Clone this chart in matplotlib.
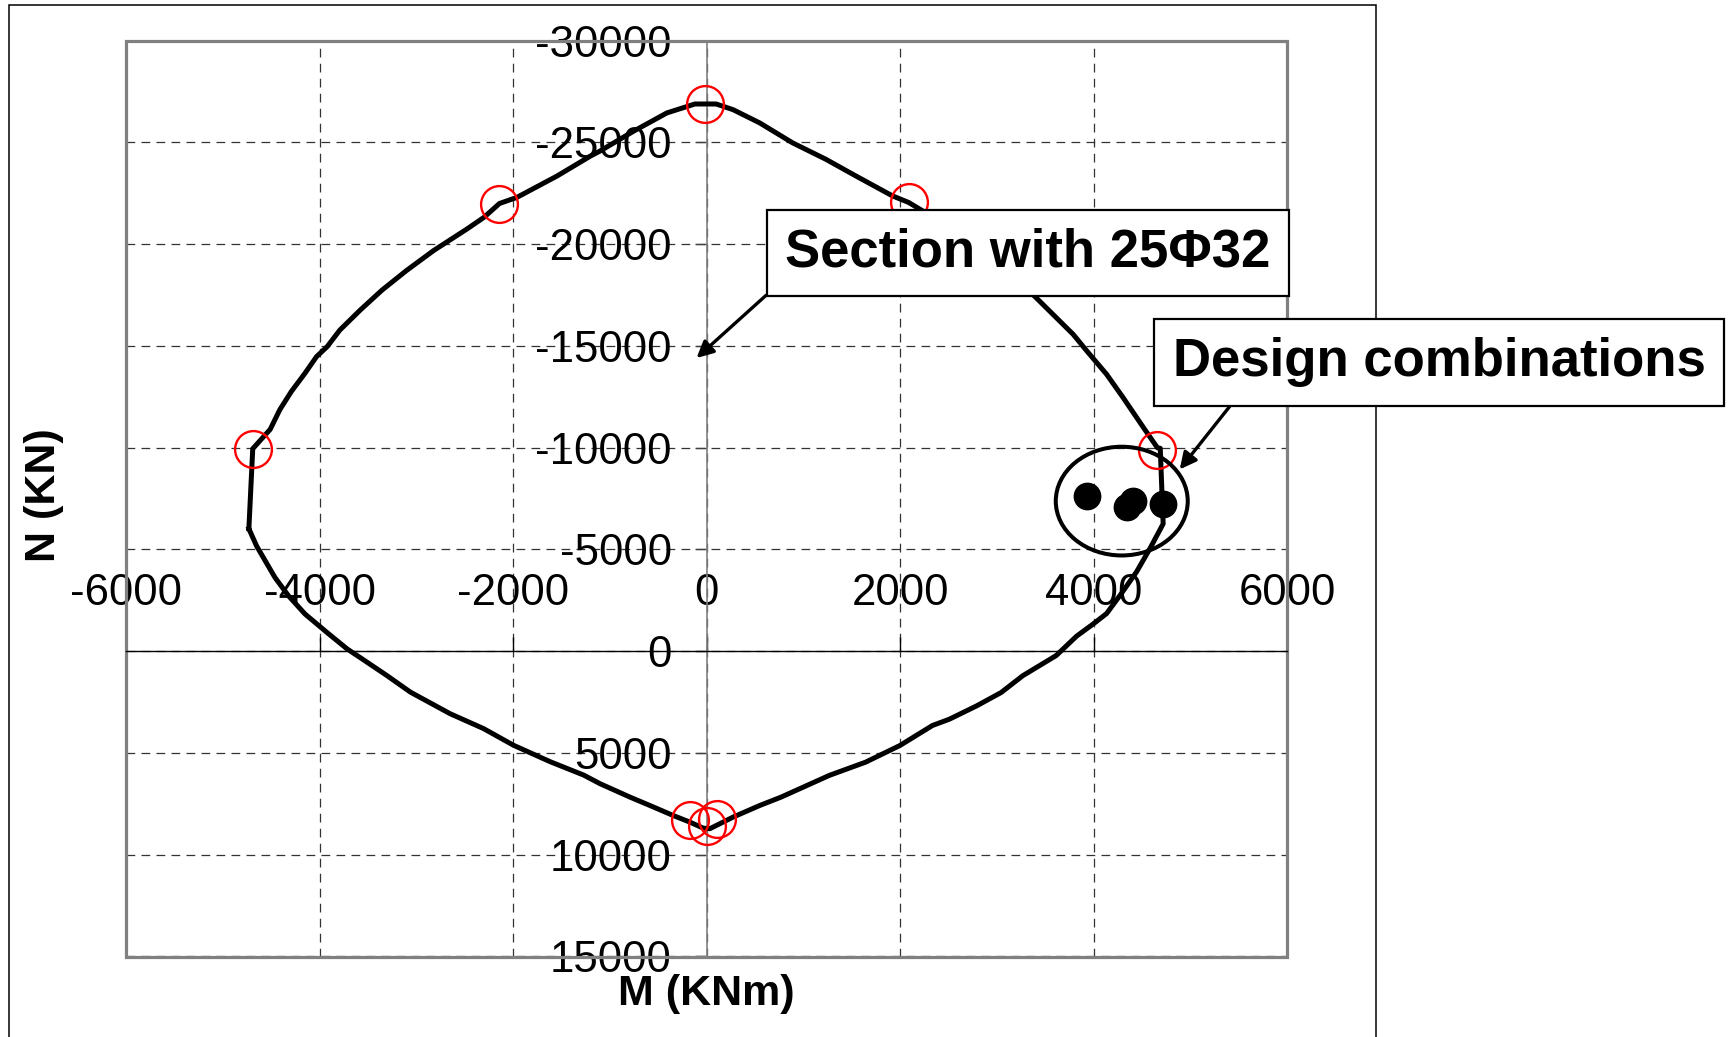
import matplotlib
matplotlib.use('Agg')
import matplotlib.pyplot as plt
from matplotlib.patches import Ellipse, Rectangle

plt.rcParams['font.family'] = ['Liberation Sans', 'DejaVu Sans']
plt.rcParams['axes.unicode_minus'] = False

# Interaction envelope (M in KNm, N in KN)
M_env = [-4730, -4690, -4510, -4410, -4290, -4150, -4030, -3920, -3790, -3580,
         -3355, -3100, -2820, -2475, -2300, -2140, -1960, -1545, -1200, -1100,
         -755, -410, -120, 100, 275, 550, 890, 1235, 1545, 1920,
         2090, 2230, 2850, 3390, 3790, 3930, 4135, 4305, 4515, 4660,
         4690, 4720, 4585, 4445, 4275, 4135, 4000, 3825, 3615, 3270,
         3045, 2790, 2510, 2335, 2000, 1645, 1270, 770, 550, 275,
         35, -35, -170, -345, -585, -790, -1100, -1270, -1615, -1995,
         -2305, -2650, -3060, -3305, -3560, -3715, -3925, -4150, -4320, -4460,
         -4650, -4730]
N_env = [-6020, -9950, -10900, -11870, -12770, -13660, -14480, -14970, -15780, -16760,
         -17740, -18710, -19690, -20750, -21320, -22000, -22300, -23350, -24330, -24580,
         -25550, -26450, -26890, -26890, -26610, -25960, -24980, -24170, -23350, -22380,
         -22050, -21650, -19500, -17450, -15570, -14760, -13610, -12470, -11000, -10000,
         -9970, -6260, -5060, -3900, -2750, -1850, -1350, -740, 210, 1200,
         2030, 2690, 3340, 3650, 4630, 5450, 6100, 7170, 7580, 8150,
         8720, 8690, 8400, 8070, 7580, 7170, 6510, 6085, 5430, 4620,
         3800, 3070, 2010, 1190, 375, -115, -930, -1830, -2720, -3620,
         -5170, -6020]

# Highlighted envelope points (red circles)
M_red = [-4690, -2140, -20, 2090, 4660, -172, 0, 110]
N_red = [-9950, -22000, -26900, -22050, -9900, 8314, 8609, 8265]

# Design combinations
M_design = [3930, 4350, 4410, 4715]
N_design = [-7650, -7100, -7400, -7250]

x_ticks = [-6000, -4000, -2000, 0, 2000, 4000, 6000]
y_ticks = [-30000, -25000, -20000, -15000, -10000, -5000, 0, 5000, 10000, 15000]

W, H = 1729, 1037
fig = plt.figure(figsize=(W / 100, H / 100), dpi=100, facecolor='white')
ax = fig.add_axes([126 / W, 1 - 956.5 / H, (1287 - 126) / W, (956.5 - 40.7) / H])

ax.set_xlim(-6000, 6000)
ax.set_ylim(15000, -30000)
ax.set_xticks(x_ticks)
ax.set_xticklabels([str(v) for v in x_ticks])
ax.set_yticks(y_ticks)
ax.set_yticklabels([str(v) for v in y_ticks])

for s in ['bottom', 'right']:
    ax.spines[s].set_visible(False)
ax.spines['top'].set_position(('data', 0))
ax.spines['top'].set_color('black')
ax.spines['top'].set_linewidth(1.0)
ax.spines['left'].set_position(('data', 0))
ax.spines['left'].set_color('#808080')
ax.spines['left'].set_linewidth(1.2)
ax.xaxis.set_ticks_position('top')
ax.yaxis.set_ticks_position('left')
ax.tick_params(axis='x', direction='out', length=10, width=1, pad=16.5,
               labelsize=31.5, color='black')
ax.tick_params(axis='y', direction='out', length=8.6, width=1, pad=16.5,
               labelsize=31.5, color='#404040')

ax.set_axisbelow(True)
ax.grid(True, color='#333333', lw=0.9, linestyle=(0, (7, 5)))

# gray plot frame
ax.add_patch(Rectangle((0, 0), 1, 1, transform=ax.transAxes, fill=False,
                       edgecolor='#808080', lw=2.3, clip_on=False, zorder=2))

# outer chart border
fig.add_artist(Rectangle((9 / W, -0.02), (1376 - 9) / W, 1 - 5 / H + 0.02,
                         transform=fig.transFigure, fill=False,
                         edgecolor='black', lw=1.1, zorder=-1))

ax.plot(M_env, N_env, color='black', lw=3.6, zorder=3, solid_joinstyle='round')
ax.plot(M_red, N_red, 'o', ms=26.5, mfc='none', mec='red', mew=1.7, zorder=4)
ax.plot(M_design, N_design, 'o', ms=19, color='black', zorder=5)
ax.add_patch(Ellipse((4292, -7377), 1364, 5343, fill=False, ec='black',
                     lw=2.9, zorder=5))

ax.annotate('Section with 25Φ32', xy=(-103, -14408), xycoords='data',
            xytext=(0.7769, 0.7682), textcoords='axes fraction',
            ha='center', va='center', fontsize=38, fontweight='bold',
            bbox=dict(boxstyle='square,pad=0.35', fc='white', ec='black', lw=1.6),
            arrowprops=dict(arrowstyle='-|>', color='black', lw=2.4,
                            relpos=(0, 0), shrinkA=0, shrinkB=0,
                            mutation_scale=25),
            zorder=6, annotation_clip=False)

ax.annotate('Design combinations', xy=(4891, -8933), xycoords='data',
            xytext=(0.9014, 0.6490), textcoords='axes fraction',
            ha='left', va='center', fontsize=38, fontweight='bold',
            bbox=dict(boxstyle='square,pad=0.35', fc='white', ec='black', lw=1.6),
            arrowprops=dict(arrowstyle='-|>', color='black', lw=2.4,
                            relpos=(0.136, 0), shrinkA=0, shrinkB=0,
                            mutation_scale=25),
            zorder=6, annotation_clip=False)

fig.text(706 / W, 1 - 994 / H, 'M (KNm)', ha='center', va='center',
         fontsize=31, fontweight='bold')
fig.text(44 / W, 1 - 495 / H, 'N (KN)', ha='center', va='center',
         rotation=90, fontsize=31, fontweight='bold')

fig.savefig('out.png', dpi=100, facecolor='white')
